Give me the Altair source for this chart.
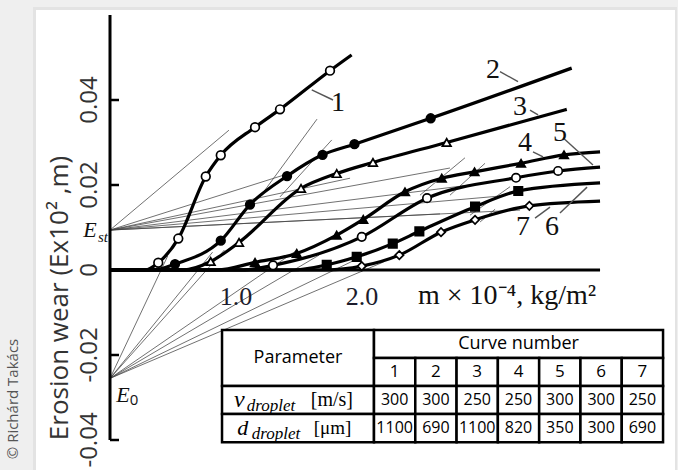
import altair as alt
import pandas as pd

# ---------------- data ----------------
CURVES = ["1", "2", "3", "4", "5", "6", "7"]
C1_X = [0.383, 0.542, 0.760, 0.879, 1.151, 1.349, 1.746]
C1_Y = [0.0017, 0.0074, 0.0220, 0.0270, 0.0336, 0.0378, 0.0469]
C2_X = [0.516, 0.879, 1.111, 1.405, 1.687, 1.940, 2.545]
C2_Y = [0.0014, 0.0069, 0.0154, 0.0221, 0.0271, 0.0296, 0.0357]
C3_X = [0.799, 1.024, 1.516, 1.799, 2.087, 2.672]
C3_Y = [0.0020, 0.0065, 0.0192, 0.0227, 0.0253, 0.0300]
C4_X = [1.151, 1.482, 1.799, 2.010, 2.341, 2.633, 2.893, 3.262, 3.603]
C4_Y = [0.0018, 0.0039, 0.0082, 0.0119, 0.0184, 0.0216, 0.0231, 0.0251, 0.0271]
C5_X = [1.294, 1.998, 2.516, 3.222, 3.556]
C5_Y = [0.0011, 0.0078, 0.0169, 0.0217, 0.0233]
C6_X = [1.720, 1.958, 2.244, 2.455, 2.897, 3.240]
C6_Y = [0.0012, 0.0031, 0.0062, 0.0091, 0.0149, 0.0186]
C7_X = [1.998, 2.296, 2.627, 2.897, 3.328]
C7_Y = [0.0009, 0.0035, 0.0089, 0.0118, 0.0151]
START_X = [0.28, 0.35, 0.58, 0.85, 1.05, 1.45, 1.72]   # where each curve leaves the axis
END_X = [1.918, 3.664, 3.625, 3.889, 3.889, 3.889, 3.889]
END_Y = [0.0506, 0.0475, 0.0378, 0.0278, 0.0242, 0.0205, 0.0162]

MARKER_SHAPES = ["circle", "circle", "triangle-up", "triangle-up", "circle", "square", "diamond"]
MARKER_FILLS = ["white", "black", "white", "black", "white", "black", "white"]
MARKER_SIZES = [75, 70, 110, 110, 75, 65, 85]

# curve number labels and leader lines
LBL_X = [1.810, 3.040, 3.254, 3.294, 3.571, 3.508, 3.278]
LBL_Y = [0.0393, 0.0471, 0.0384, 0.0299, 0.0322, 0.0101, 0.0101]
LEAD_X1 = [1.601, 3.095, 3.333, 3.357, 3.595, 3.571, 3.373]
LEAD_Y1 = [0.0424, 0.0467, 0.0376, 0.0278, 0.0311, 0.0134, 0.0122]
LEAD_X2 = [1.770, 3.238, 3.397, 3.437, 3.833, 3.786, 3.492]
LEAD_Y2 = [0.0400, 0.0443, 0.0365, 0.0266, 0.0247, 0.0195, 0.0148]

# construction lines
E_ST = 0.0094
E_0 = -0.0255
EST_FAN_X = [0.944, 1.429, 1.905, 2.698, 2.857, 3.095, 3.254, 2.619]
EST_FAN_Y = [0.0329, 0.0228, 0.0216, 0.0240, 0.0200, 0.0174, 0.0141, 0.0132]
E0_FAN_X = [0.458, 0.814, 0.908, 1.485, 1.659, 1.975, 2.172]
E0_FAN_Y = [0.0033, 0.0042, 0.0047, 0.0047, 0.0035, 0.0028, 0.0019]
TAN_X1 = [1.190, 1.349, 2.460, 2.698, 2.857, 2.937]
TAN_Y1 = [0.0172, 0.0172, 0.0176, 0.0176, 0.0129, 0.0113]
TAN_X2 = [1.643, 1.760, 2.817, 2.976, 3.175, 3.056]
TAN_Y2 = [0.0355, 0.0306, 0.0264, 0.0251, 0.0196, 0.0143]

Y_MIN, Y_MAX = -0.04, 0.06
Y_TICKS = [-0.04, -0.02, 0.02, 0.04]
Y_LABEL_VALUES = [-0.04, -0.02, 0.0, 0.02, 0.04]
Y_LABELS = ["-0.04", "-0.02", "0", "0.02", "0.04"]
Y_TITLE = "Erosion wear (Ex10² ,m)"
X_TICKS = [1.0, 2.0]
X_TICK_LABELS = ["1.0", "2.0"]
X_AXIS_END = 3.889
X_TITLE = "m × 10⁻⁴, kg/m²"
X_TITLE_AT = 2.444

# table
V_DROPLET = [300, 300, 250, 250, 300, 300, 250]
D_DROPLET = [1100, 690, 1100, 820, 350, 300, 690]

# ---------------- build tables ----------------
CX = [C1_X, C2_X, C3_X, C4_X, C5_X, C6_X, C7_X]
CY = [C1_Y, C2_Y, C3_Y, C4_Y, C5_Y, C6_Y, C7_Y]
line_rows, pt_rows = [], []
for i, cid in enumerate(CURVES):
    seq = [(0.0, 0.0), (START_X[i], 0.0)] + list(zip(CX[i], CY[i])) + [(END_X[i], END_Y[i])]
    for k, (x, y) in enumerate(seq):
        line_rows.append({"curve": cid, "x": x, "y": y, "order": k})
    for x, y in zip(CX[i], CY[i]):
        pt_rows.append({"curve": cid, "x": x, "y": y})
lines_df = pd.DataFrame(line_rows)
pts_df = pd.DataFrame(pt_rows)

seg_rows = []
for x, y in zip(EST_FAN_X, EST_FAN_Y):
    seg_rows.append({"x": 0.0, "y": E_ST, "x2": x, "y2": y})
for x, y in zip(E0_FAN_X, E0_FAN_Y):
    seg_rows.append({"x": 0.0, "y": E_0, "x2": x, "y2": y})
for a, b, c, d in zip(TAN_X1, TAN_Y1, TAN_X2, TAN_Y2):
    seg_rows.append({"x": a, "y": b, "x2": c, "y2": d})
seg_df = pd.DataFrame(seg_rows)

lead_df = pd.DataFrame({"x": LEAD_X1, "y": LEAD_Y1, "x2": LEAD_X2, "y2": LEAD_Y2})
lbl_df = pd.DataFrame({"x": LBL_X, "y": LBL_Y, "t": CURVES})
ytick_df = pd.DataFrame({"y": Y_TICKS})
ylab_df = pd.DataFrame({"y": Y_LABEL_VALUES, "t": Y_LABELS})
yline_df = pd.DataFrame({"x": [0.0], "y": [Y_MIN], "y2": [Y_MAX]})
xtick_df = pd.DataFrame({"x": X_TICKS, "y": [0.0] * len(X_TICKS), "t": X_TICK_LABELS})
xaxis_df = pd.DataFrame({"x": [0.0], "x2": [X_AXIS_END], "y": [0.0]})
xtitle_df = pd.DataFrame({"x": [X_TITLE_AT], "y": [0.0], "t": [X_TITLE]})
dummy = pd.DataFrame({"a": [0]})

XS = alt.Scale(domain=[0, 3.968], nice=False, zero=False)
YS = alt.Scale(domain=[Y_MIN, Y_MAX], nice=False, zero=False)


def NX(f="x"):
    return alt.X(f + ":Q", scale=XS, axis=None)


def NY(f="y"):
    return alt.Y(f + ":Q", scale=YS, axis=None)


SERIF = "Liberation Serif"
SANS = "Open Sans"

card_shadow = alt.Chart(dummy).mark_rect(color="#e3e3e3").encode(
    x=alt.value(-77), x2=alt.value(567), y=alt.value(-8), y2=alt.value(460))
card = alt.Chart(dummy).mark_rect(color="white").encode(
    x=alt.value(-74), x2=alt.value(565), y=alt.value(-5), y2=alt.value(460))
copyright_txt = alt.Chart(dummy).mark_text(
    text="© Richárd Takács", angle=270, font=SANS, fontSize=15, color="#555",
    align="center", baseline="middle").encode(x=alt.value(-97), y=alt.value(384))

# y axis drawn from its own small tables
yline = alt.Chart(yline_df).mark_rule(color="black", strokeWidth=3).encode(
    x=NX(), y=NY(), y2="y2:Q")
yticks = alt.Chart(ytick_df).mark_rule(color="black", strokeWidth=2.5).encode(
    x=alt.value(0), x2=alt.value(9), y=NY())
ylabels = alt.Chart(ylab_df).mark_text(font=SANS, fontSize=24, color="#333", angle=270,
                                       align="center", baseline="middle").encode(
    x=alt.value(-20), y=NY(), text="t:N")
ytitle = alt.Chart(dummy).mark_text(
    text=Y_TITLE, font=SANS, fontSize=26, color="#333", angle=270,
    align="center", baseline="middle").encode(x=alt.value(-50), y=alt.value(283))

xaxis = alt.Chart(xaxis_df).mark_rule(color="black", strokeWidth=3).encode(
    x=NX(), x2="x2:Q", y=NY())
xlabels = alt.Chart(xtick_df).mark_text(font=SERIF, fontSize=26, color="#1c1c2c", dy=27,
                                        align="center", baseline="middle").encode(
    x=NX(), y=NY(), text="t:N")
xtitle = alt.Chart(xtitle_df).mark_text(
    font=SERIF, fontSize=28, color="#111", align="left",
    baseline="middle", dy=26).encode(x=NX(), y=NY(), text="t:N")

segs = alt.Chart(seg_df).mark_rule(color="#444", strokeWidth=0.9, opacity=0.85).encode(
    x=NX(), y=NY(), x2="x2:Q", y2="y2:Q")
leaders = alt.Chart(lead_df).mark_rule(color="#555", strokeWidth=1.4).encode(
    x=NX(), y=NY(), x2="x2:Q", y2="y2:Q")
labels = alt.Chart(lbl_df).mark_text(font=SERIF, fontSize=28, color="#111",
                                     align="center", baseline="middle").encode(
    x=NX(), y=NY(), text="t:N")


def anchored_text(txt, yv, font, size, dx, dy, style="normal"):
    d = pd.DataFrame({"x": [0.0], "y": [yv], "t": [txt]})
    return alt.Chart(d).mark_text(font=font, fontStyle=style, fontSize=size,
                                  color="#111", align="center", baseline="middle",
                                  dx=dx, dy=dy).encode(x=NX(), y=NY(), text="t:N")


est_E = anchored_text("E", E_ST, SERIF, 22, -20, 0, "italic")
est_sub = anchored_text("st", E_ST, SERIF, 15, -7, 7, "italic")
e0_E = anchored_text("E", E_0, SERIF, 22, 13, 17, "italic")
e0_sub = anchored_text("0", E_0, SANS, 15, 24, 22)

curve_lines = alt.Chart(lines_df).mark_line(color="black", strokeWidth=3.2,
                                            interpolate="monotone").encode(
    x=NX(), y=NY(), detail="curve:N", order="order:Q")
curve_pts = alt.Chart(pts_df).mark_point(filled=True, stroke="black", strokeWidth=1.7,
                                         opacity=1).encode(
    x=NX(), y=NY(),
    shape=alt.Shape("curve:N", scale=alt.Scale(domain=CURVES, range=MARKER_SHAPES), legend=None),
    fill=alt.Fill("curve:N", scale=alt.Scale(domain=CURVES, range=MARKER_FILLS), legend=None),
    size=alt.Size("curve:N", scale=alt.Scale(domain=CURVES, range=MARKER_SIZES), legend=None))

# ---------------- table (laid out in table units, mapped onto the data scales) ----------------
P = 3.68                       # width of the parameter column, in value-column units
TX0, TX1 = 0.889, 4.389        # table left/right edge on the x scale
TY0, TY1 = -0.0141, -0.0405    # table top/bottom edge on the y scale


def tx(u):
    return TX0 + (TX1 - TX0) * u / (P + 7)


def ty(v):
    return TY0 + (TY1 - TY0) * v / 4


cells = [(0, P, 0, 2), (P, P + 7, 0, 1), (0, P, 2, 3), (0, P, 3, 4)]
texts = [(P / 2, 1.0, "Parameter", 18), (P + 3.5, 0.5, "Curve number", 18)]
for i, cid in enumerate(CURVES):
    for r in (1, 2, 3):
        cells.append((P + i, P + i + 1, r, r + 1))
    texts.append((P + i + 0.5, 1.5, cid, 17))
    texts.append((P + i + 0.5, 2.5, str(V_DROPLET[i]), 16))
    texts.append((P + i + 0.5, 3.5, str(D_DROPLET[i]), 16))
cells_df = pd.DataFrame([{"x": tx(a), "x2": tx(b), "y": ty(c), "y2": ty(d)} for a, b, c, d in cells])
texts_df = pd.DataFrame([{"x": tx(a), "y": ty(b), "t": t, "s": s} for a, b, t, s in texts])

tcells = alt.Chart(cells_df).mark_rect(fill="white", stroke="black", strokeWidth=2.5).encode(
    x=NX(), x2="x2:Q", y=NY(), y2="y2:Q")
ttexts = alt.Chart(texts_df).mark_text(font=SANS, color="black", align="center",
                                       baseline="middle").encode(
    x=NX(), y=NY(), text="t:N", size=alt.Size("s:Q", scale=None, legend=None))

param_parts = [
    (0.42, 2.5, "v", 24, "italic", 0, "center"),
    (0.60, 2.5, "droplet", 17, "italic", 6, "left"),
    (2.15, 2.5, "[m/s]", 20, "normal", 0, "left"),
    (0.50, 3.5, "d", 22, "italic", 0, "center"),
    (0.72, 3.5, "droplet", 17, "italic", 6, "left"),
    (2.22, 3.5, "[μm]", 19, "normal", 0, "left"),
]
layers_param = []
for ux, uy, t, s, st, dy, al in param_parts:
    layers_param.append(
        alt.Chart(pd.DataFrame([{"x": tx(ux), "y": ty(uy), "t": t}])).mark_text(
            font=SERIF, fontStyle=st, fontSize=s, color="black",
            align=al, baseline="middle", dy=dy).encode(x=NX(), y=NY(), text="t:N"))

chart = alt.layer(card_shadow, card, copyright_txt, segs, xaxis, curve_lines, curve_pts,
                  leaders, labels, xlabels, xtitle, est_E, est_sub, e0_E, e0_sub,
                  tcells, ttexts, *layers_param, yline, yticks, ylabels, ytitle).properties(
    width=500, height=425,
    autosize=alt.AutoSizeParams(type="none"),
    padding={"left": 110, "top": 15, "right": 68, "bottom": 30},
    background="#efefef",
).configure_view(stroke=None)

chart.save("out.html", embed_options={"renderer": "svg", "actions": False})
